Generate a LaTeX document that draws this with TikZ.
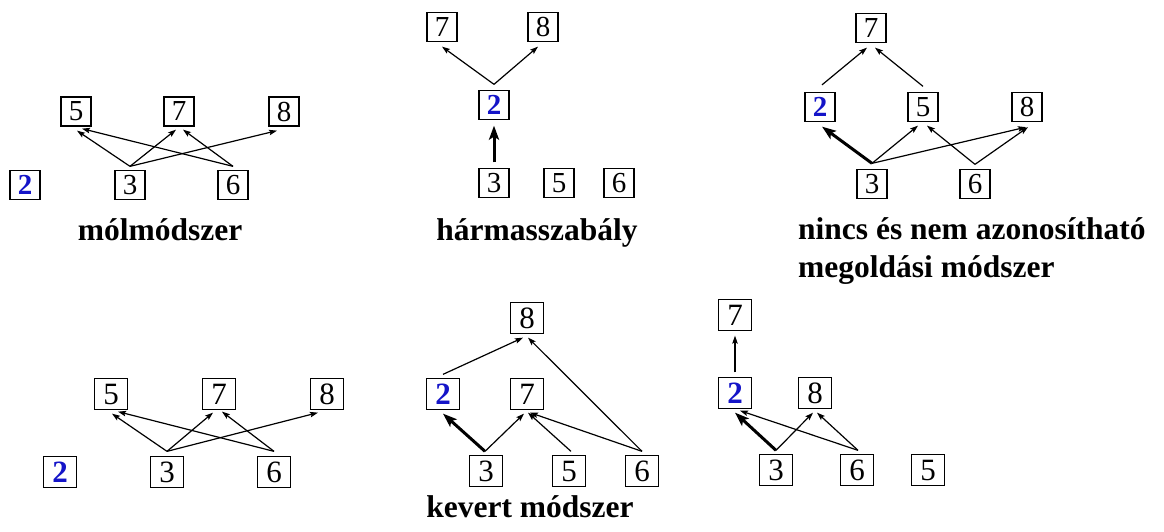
\documentclass[tikz,border=0pt]{standalone}
\usepackage{fontspec}
\setmainfont{Liberation Serif}
\usetikzlibrary{arrows.meta}
\definecolor{numblue}{RGB}{20,20,200}
\begin{document}
\begin{tikzpicture}[x=1pt,y=-1pt,
  box/.style={draw, line width=1.3pt, inner sep=0pt, minimum width=30pt,
    minimum height=29pt, font=\fontsize{29}{29}\selectfont},
  boxb/.style={box, minimum width=33pt, minimum height=31pt,
    font=\fontsize{31}{31}\selectfont},
  key/.style={text=numblue, execute at begin node=\bfseries},
  arr/.style={-{Stealth[length=8pt,width=5.5pt,inset=1.5pt]}, line width=1.2pt},
  tarr/.style={-{Stealth[length=14pt,width=10pt,inset=3pt]}, line width=3pt},
  caption/.style={inner sep=0pt, font=\fontsize{31.5}{38}\selectfont\bfseries}]
\useasboundingbox (0,0) rectangle (1164,532);

% --- mólmódszer ---
\node[box] (a5) at (76,111.5) {5};
\node[box] (a7) at (179,111.5) {7};
\node[box] (a8) at (284,111.5) {8};
\node[box,key] (a2) at (25,185) {2};
\node[box] (a3) at (130,185) {3};
\node[box] (a6) at (233,185) {6};
\draw[arr] ([yshift=3.5]a3.north) -- ([xshift=1,yshift=-4]a5.south);
\draw[arr] ([yshift=3.5]a3.north) -- ([xshift=-3,yshift=-3]a7.south);
\draw[arr] ([yshift=3.5]a3.north) -- ([xshift=-7,yshift=-4]a8.south);
\draw[arr] ([yshift=3.5]a6.north) -- ([xshift=6,yshift=-2]a5.south);
\draw[arr] ([yshift=3.5]a6.north) -- ([xshift=4,yshift=-3]a7.south);
\node[caption,anchor=base] (capA) at (160,240) {mólmódszer};

% --- hármasszabály ---
\node[box] (b7) at (442,27) {7};
\node[box] (b8) at (543,27) {8};
\node[box,key] (b2) at (494,105) {2};
\node[box] (b3) at (494,183) {3};
\node[box] (b5) at (559,183) {5};
\node[box] (b6) at (619,183) {6};
\draw[arr] ([yshift=5.5]b2.north) -- ([yshift=-4.5]b7.south);
\draw[arr] ([yshift=5.5]b2.north) -- ([xshift=-5,yshift=-4.5]b8.south);
\draw[tarr] ([yshift=5.5]b3.north) -- ([yshift=-5.5]b2.south);
\node[caption,anchor=base] (capB) at (537,240) {hármasszabály};

% --- nincs és nem azonosítható megoldási módszer ---
\node[box] (c7) at (871,28) {7};
\node[box,key] (c2) at (820,107) {2};
\node[box] (c5) at (923,107) {5};
\node[box] (c8) at (1027,107) {8};
\node[box] (c3) at (872,184) {3};
\node[box] (c6) at (975,184) {6};
\draw[arr] ([xshift=2,yshift=7]c2.north) -- ([xshift=-4,yshift=-4.5]c7.south);
\draw[arr] ([yshift=5.5]c5.north) -- ([xshift=4,yshift=-4.5]c7.south);
\draw[tarr] ([yshift=5.5]c3.north) -- ([xshift=2,yshift=-4.5]c2.south);
\draw[arr] ([yshift=5.5]c3.north) -- ([xshift=-5,yshift=-3.5]c5.south);
\draw[arr] ([yshift=5.5]c3.north) -- ([xshift=-1,yshift=-5]c8.south);
\draw[arr] ([yshift=4.5]c6.north) -- ([xshift=4,yshift=-3.5]c5.south);
\draw[arr] ([yshift=4.5]c6.north) -- ([xshift=1,yshift=-5]c8.south);
\node[caption,anchor=base west] (capC1) at (798,239) {nincs és nem azonosítható};
\node[caption,anchor=base west] (capC2) at (798,277) {megoldási módszer};

% --- kevert módszer: first variant ---
\node[boxb] (d5) at (111,394) {5};
\node[boxb] (d7) at (219,394) {7};
\node[boxb] (d8) at (327,394) {8};
\node[boxb,key] (d2) at (60,472) {2};
\node[boxb] (d3) at (167,472) {3};
\node[boxb] (d6) at (274,472) {6};
\draw[arr] ([yshift=4.5]d3.north) -- ([xshift=1,yshift=-3.5]d5.south);
\draw[arr] ([yshift=4.5]d3.north) -- ([xshift=-6,yshift=-2.5]d7.south);
\draw[arr] ([yshift=4.5]d3.north) -- ([xshift=-9,yshift=-2.5]d8.south);
\draw[arr] ([yshift=4.5]d6.north) -- ([xshift=7,yshift=-1.5]d5.south);
\draw[arr] ([yshift=4.5]d6.north) -- ([xshift=3,yshift=-1.5]d7.south);

% --- kevert módszer: second variant ---
\node[boxb] (e8) at (527,318) {8};
\node[boxb,key] (e2) at (443,394) {2};
\node[boxb] (e7) at (527,394) {7};
\node[boxb] (e3) at (486,471) {3};
\node[boxb] (e5) at (569,471) {5};
\node[boxb] (e6) at (642,471) {6};
\draw[arr] ([yshift=3.5]e2.north) -- ([xshift=-4,yshift=-3.5]e8.south);
\draw[arr] ([yshift=3.5]e6.north) -- ([xshift=1,yshift=-3.5]e8.south);
\draw[tarr] ([xshift=-1,yshift=3.5]e3.north) -- ([yshift=-3.5]e2.south);
\draw[arr] ([xshift=-1,yshift=3.5]e3.north) -- ([xshift=-3,yshift=-3.5]e7.south);
\draw[arr] ([xshift=2,yshift=3.5]e5.north) -- ([xshift=1,yshift=-2.5]e7.south);
\draw[arr] ([yshift=3.5]e6.north) -- ([xshift=3,yshift=-2.5]e7.south);

% --- kevert módszer: third variant ---
\node[boxb] (f7) at (735,315) {7};
\node[boxb,key] (f2) at (735,393) {2};
\node[boxb] (f8) at (815,393) {8};
\node[boxb] (f3) at (776,470) {3};
\node[boxb] (f6) at (857,470) {6};
\node[boxb] (f5) at (928,470) {5};
\draw[arr] ([yshift=4.5]f2.north) -- ([yshift=-4.5]f7.south);
\draw[tarr] ([yshift=3.5]f3.north) -- ([yshift=-3.5]f2.south);
\draw[arr] ([yshift=3.5]f3.north) -- ([xshift=-2,yshift=-3.5]f8.south);
\draw[arr] ([xshift=1,yshift=3.5]f6.north) -- ([xshift=5,yshift=-1.5]f2.south);
\draw[arr] ([xshift=1,yshift=3.5]f6.north) -- ([xshift=2,yshift=-3.5]f8.south);

\node[caption,anchor=base] (capD) at (530,517) {kevert módszer};
\end{tikzpicture}
\end{document}
